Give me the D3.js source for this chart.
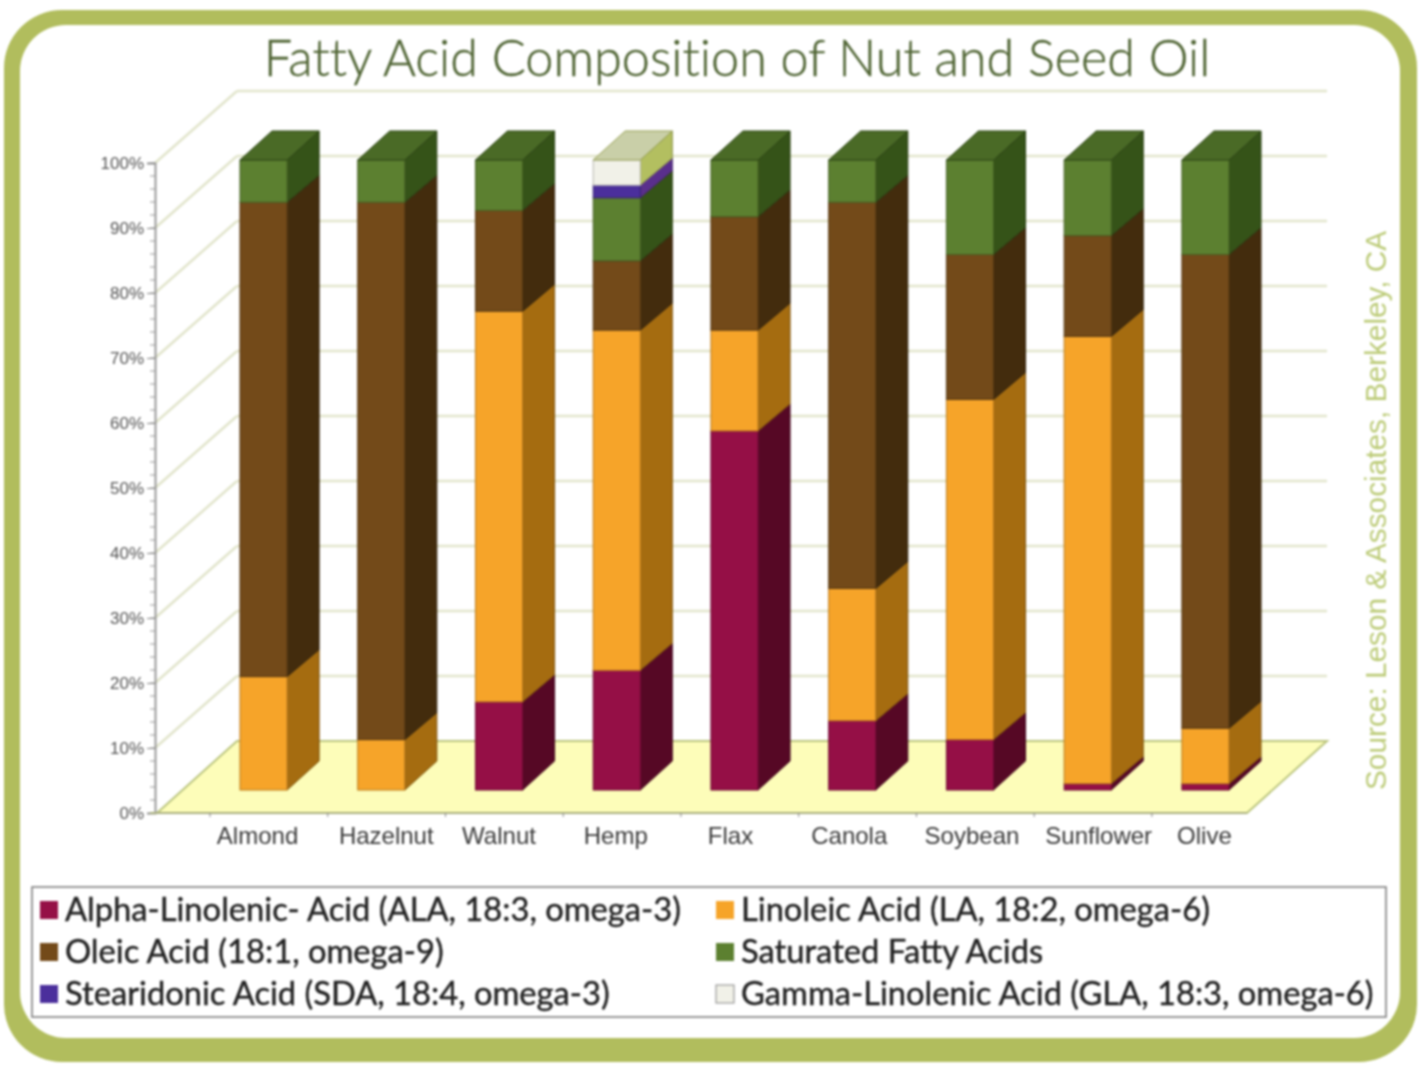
<!DOCTYPE html>
<html>
<head>
<meta charset="utf-8">
<script src="https://cdn.jsdelivr.net/npm/d3@7"></script>
<style>
  html, body { margin: 0; padding: 0; background: #fff; }
  svg { display: block; filter: blur(0.8px); }
</style>
</head>
<body>
<div id="chart"></div>
<script>
// values, percent per oil
const oils = ["Almond","Hazelnut","Walnut","Hemp","Flax","Canola","Soybean","Sunflower","Olive"];
const ala = [0, 0, 14, 19, 57, 11, 8, 1, 1];
const la = [18, 8, 62, 54, 16, 21, 54, 71, 8.8];
const oleic = [75.3, 85.3, 16, 11, 18, 61.3, 23, 16, 75.2];
const saturated = [6.7, 6.7, 8, 10, 9, 6.7, 15, 12, 15];
const sda = [0, 0, 0, 2, 0, 0, 0, 0, 0];
const gla = [0, 0, 0, 4, 0, 0, 0, 0, 0];

const yTicks = [0,10,20,30,40,50,60,70,80,90,100];
const minorTicks = d3.range(0, 101, 2);

const legendLabels = [
  "Alpha-Linolenic- Acid (ALA, 18:3, omega-3)",
  "Linoleic Acid (LA, 18:2, omega-6)",
  "Oleic Acid (18:1, omega-9)",
  "Saturated Fatty Acids",
  "Stearidonic Acid (SDA, 18:4, omega-3)",
  "Gamma-Linolenic Acid (GLA, 18:3, omega-6)"
];

const width = 1422;
const height = 1066;

// the hand placed labels of the original do not sit under the bars
const labelNudge = [-6, 5, 0, -1, -4, -3, 2, 11, -1];

const series = [
  {key: "ala", values: ala, front: "#950f46", side: "#560825", top: "#6d0b30"},
  {key: "la", values: la, front: "#f6a429", side: "#a56c10", top: "#c98518"},
  {key: "oleic", values: oleic, front: "#734a19", side: "#432c0d", top: "#5a3a12"},
  {key: "sat", values: saturated, front: "#5c8030", side: "#355318", top: "#4a6a26"},
  {key: "sda", values: sda, front: "#4b2f9c", side: "#5a2f8c", top: "#4b2f9c"},
  {key: "gla", values: gla, front: "#f1f1e8", side: "#b3bf60", top: "#c9cfa8"}
];

const svg = d3.select("#chart").append("svg")
  .attr("width", width)
  .attr("height", height);

// green frame
svg.append("rect")
  .attr("x", 4).attr("y", 10)
  .attr("width", 1413).attr("height", 1052)
  .attr("rx", 58)
  .attr("fill", "#b1bd5d");
svg.append("rect")
  .attr("x", 20).attr("y", 25)
  .attr("width", 1380).attr("height", 1013)
  .attr("rx", 46)
  .attr("fill", "#fff");

svg.append("text")
  .attr("x", 737).attr("y", 76)
  .attr("text-anchor", "middle")
  .attr("font-family", "Lato")
  .attr("font-weight", 300)
  .attr("font-size", 50.4)
  .attr("fill", "#4f6433")
  .attr("stroke", "#4f6433")
  .attr("stroke-width", 0.4)
  .style("font-variant-ligatures", "none")
  .text("Fatty Acid Composition of Nut and Seed Oil");

// axis scale (front of the box) and bar scale (bars stand further in)
const yAxisScale = d3.scaleLinear().domain([0, 100]).range([813, 163]);
const yBar = d3.scaleLinear().domain([0, 100]).range([790, 160]);
const x = d3.scaleBand().domain(oils).range([240, 1229]).paddingInner(0.6);

const wallDx = 82, wallDy = 72;   // depth of the box
const barDx = 32, barDy = 29;     // depth of a bar
const jointDy = 27;               // joints between parts climb a bit less

const sideRise = v => (v <= 0 || v >= 99.9) ? barDy : jointDy;

// grid on the back wall and the slanted lines on the left wall
const grid = svg.append("g").attr("stroke", "#e2e5cc").attr("stroke-width", 2.5);
grid.selectAll(".back")
  .data(yTicks.filter(d => d > 0))
  .join("line")
  .attr("class", "back")
  .attr("x1", 237).attr("x2", 1327)
  .attr("y1", d => yAxisScale(d) - wallDy)
  .attr("y2", d => yAxisScale(d) - wallDy);
grid.selectAll(".slant")
  .data(yTicks.filter(d => d > 0))
  .join("line")
  .attr("class", "slant")
  .attr("x1", 155).attr("x2", 155 + wallDx)
  .attr("y1", d => yAxisScale(d))
  .attr("y2", d => yAxisScale(d) - wallDy);

// floor
svg.append("polygon")
  .attr("points", [[157, yAxisScale(0)], [155 + wallDx, yAxisScale(0) - wallDy], [1327, yAxisScale(0) - wallDy], [1247, yAxisScale(0)]].join(" "))
  .attr("fill", "#fdfdb9")
  .attr("stroke", "#bcc67f")
  .attr("stroke-width", 2);

// y axis with the minor ticks first
svg.append("g")
  .attr("transform", "translate(155,0)")
  .selectAll("line")
  .data(minorTicks)
  .join("line")
  .attr("x1", -5).attr("x2", 0)
  .attr("y1", d => yAxisScale(d))
  .attr("y2", d => yAxisScale(d))
  .attr("stroke", "#999");

const yAxis = svg.append("g")
  .attr("transform", "translate(155,0)")
  .call(d3.axisLeft(yAxisScale).tickValues(yTicks).tickFormat(d => d + "%").tickSize(8).tickPadding(3));
yAxis.selectAll("text")
  .attr("font-family", "Liberation Sans")
  .attr("font-size", 17)
  .attr("fill", "#555");
yAxis.selectAll("line").attr("stroke", "#888");
yAxis.select(".domain").attr("stroke", "#999").attr("stroke-width", 2);

// x axis line and its small ticks, which fall between the bars
svg.append("line")
  .attr("x1", 150).attr("x2", 1247)
  .attr("y1", yAxisScale(0)).attr("y2", yAxisScale(0))
  .attr("stroke", "#aab07e")
  .attr("stroke-width", 2);
svg.append("g")
  .selectAll("line")
  .data(oils)
  .join("line")
  .attr("x1", d => x(d) - 30).attr("x2", d => x(d) - 30)
  .attr("y1", yAxisScale(0)).attr("y2", yAxisScale(0) + 4)
  .attr("stroke", "#888");

svg.append("g")
  .selectAll("text")
  .data(oils)
  .join("text")
  .attr("x", (d, i) => x(d) + x.bandwidth() / 2 + labelNudge[i])
  .attr("y", 844)
  .attr("text-anchor", "middle")
  .attr("font-family", "Liberation Sans")
  .attr("font-size", 24)
  .attr("fill", "#3a3a3a")
  .text(d => d);

// stacked bars
const stacked = oils.map((oil, i) => {
  let sum = 0;
  const parts = [];
  series.forEach(s => {
    const v = s.values[i];
    if (v > 0) {
      parts.push({oil: oil, s: s, y0: sum, y1: sum + v});
      sum += v;
    }
  });
  return parts;
});

const bars = svg.selectAll(".bar")
  .data(stacked)
  .join("g")
  .attr("class", "bar");

bars.selectAll(".side")
  .data(d => d)
  .join("polygon")
  .attr("class", "side")
  .attr("fill", d => d.s.side)
  .attr("stroke", d => d3.color(d.s.side).darker(0.8))
  .attr("stroke-width", 1)
  .attr("points", d => {
    const r = x(d.oil) + x.bandwidth();
    return [[r, yBar(d.y0)], [r + barDx, yBar(d.y0) - sideRise(d.y0)], [r + barDx, yBar(d.y1) - sideRise(d.y1)], [r, yBar(d.y1)]].join(" ");
  });

bars.selectAll(".front")
  .data(d => d)
  .join("rect")
  .attr("class", "front")
  .attr("fill", d => d.s.front)
  .attr("stroke", d => d3.color(d.s.front).darker(0.8))
  .attr("stroke-width", 1)
  .attr("x", d => x(d.oil))
  .attr("width", x.bandwidth())
  .attr("y", d => yBar(d.y1))
  .attr("height", d => yBar(d.y0) - yBar(d.y1));

bars.append("polygon")
  .attr("fill", d => d[d.length - 1].s.top)
  .attr("stroke", d => d3.color(d[d.length - 1].s.side).darker(0.5))
  .attr("points", d => {
    const last = d[d.length - 1];
    const l = x(last.oil), r = l + x.bandwidth(), t = yBar(last.y1);
    return [[l, t], [l + barDx, t - barDy], [r + barDx, t - barDy], [r, t]].join(" ");
  });

// source, turned up the right side
svg.append("text")
  .attr("transform", "translate(1386,790) rotate(-90)")
  .attr("font-family", "Liberation Sans")
  .attr("font-size", 29.8)
  .attr("fill", "#bccb78")
  .text("Source: Leson & Associates, Berkeley, CA");

// legend
svg.append("rect")
  .attr("x", 32).attr("y", 887)
  .attr("width", 1354).attr("height", 130)
  .attr("fill", "#fff")
  .attr("stroke", "#777")
  .attr("stroke-width", 1.5);

const legendOrder = ["ala", "la", "oleic", "sat", "sda", "gla"];
const legendX = d3.scaleOrdinal().domain([0, 1]).range([40, 716]);
const legendY = d3.scalePoint().domain([0, 1, 2]).range([910, 994]);

const legendItem = svg.selectAll(".legend-item")
  .data(legendLabels)
  .join("g")
  .attr("class", "legend-item")
  .attr("transform", (d, i) => `translate(${legendX(i % 2)},${legendY(Math.floor(i / 2))})`);

legendItem.append("rect")
  .attr("x", 0).attr("y", -9)
  .attr("width", 18).attr("height", 18)
  .attr("fill", (d, i) => series.find(s => s.key === legendOrder[i]).front)
  .attr("stroke", (d, i) => legendOrder[i] === "gla" ? "#888" : "none");

legendItem.append("text")
  .attr("x", 25).attr("y", 11)
  .attr("font-family", "Lato")
  .attr("font-size", 32.7)
  .attr("fill", "#222")
  .attr("stroke", "#222")
  .attr("stroke-width", 0.4)
  .text(d => d);
</script>
</body>
</html>
